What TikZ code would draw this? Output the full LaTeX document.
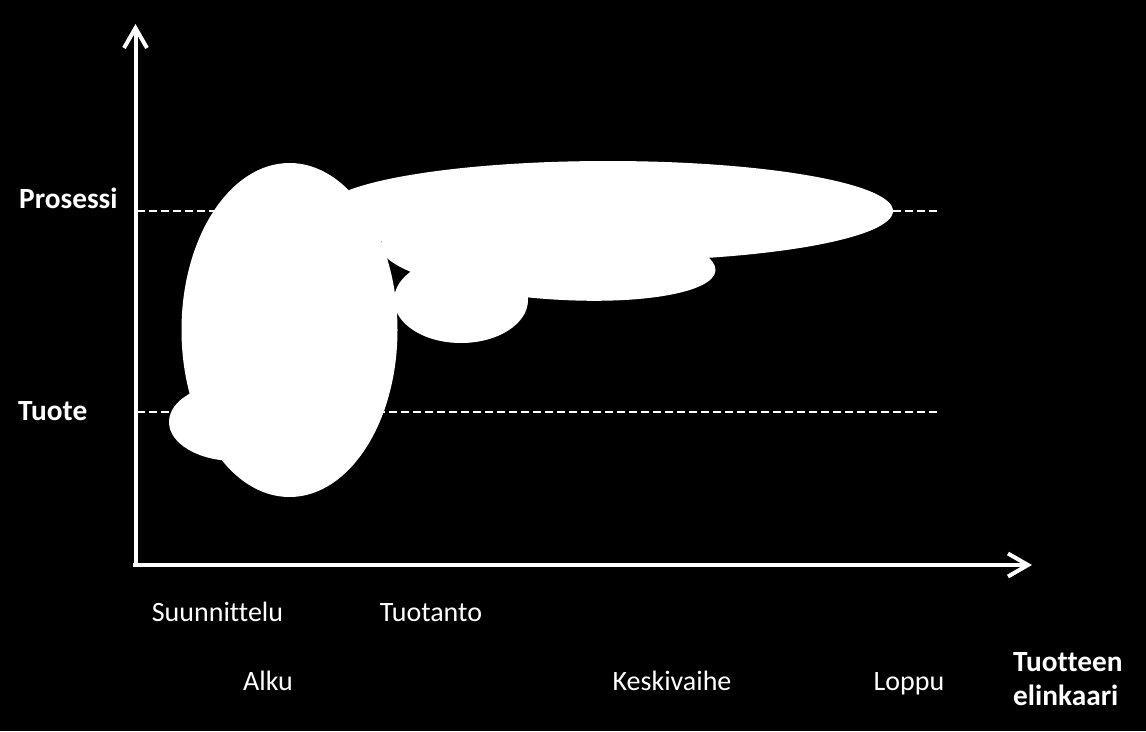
\documentclass[tikz,border=0pt]{standalone}
\usepackage{fontspec}
\setmainfont[Ligatures=NoCommon]{Carlito}
\usetikzlibrary{arrows.meta}
\begin{document}
\begin{tikzpicture}[x=1pt,y=-1pt,
  axis/.style={white,line width=4pt,-{Straight Barb[length=20pt,width=23pt,line width=4pt]}},
  guide/.style={white,line width=2.5pt,dash pattern=on 8pt off 4pt},
  blob/.style={fill=white},
  lbl/.style={text=white,inner sep=0pt,font=\fontsize{28}{34}\selectfont},
  blbl/.style={lbl,font=\fontsize{29.3}{34}\selectfont\bfseries}]
\fill[black] (0,0) rectangle (1146,731);
\useasboundingbox (0,0) rectangle (1146,731);
% coordinates
\coordinate (o) at (135.5,565);
\coordinate (ytop) at (135.5,24);
\coordinate (xend) at (1032,565);
\coordinate (p0) at (137,211);
\coordinate (p1) at (937,211);
\coordinate (t0) at (137,412);
\coordinate (t1) at (937,412);
% dashed guides
\draw[guide] (p0) -- (p1);
\draw[guide] (t0) -- (t1);
% shapes
\fill[blob] (608,211) ellipse [x radius=285pt, y radius=50pt];
\fill[blob, rotate around={-4.3:(548,258)}] (548,258) ellipse [x radius=168pt, y radius=41pt];
\fill[blob] (461,300) ellipse [x radius=67pt, y radius=43pt];
\fill[blob] (235,422) ellipse [x radius=66pt, y radius=39pt];
\fill[blob] (289.5,330) ellipse [x radius=108pt, y radius=167pt];
% axes
\draw[axis] ([yshift=-2pt]o) -- (ytop);
\draw[axis] ([xshift=-2.5pt]o) -- (xend);
% labels
\node[blbl,anchor=base west] (pros) at (19,208) {Prosessi};
\node[blbl,anchor=base west] (tuote) at (18,420) {Tuote};
\node[lbl,anchor=base] (suun) at (217.5,621) {Suunnittelu};
\node[lbl,anchor=base] (tuot) at (431,621) {Tuotanto};
\node[lbl,anchor=base] (alku) at (268,690) {Alku};
\node[lbl,anchor=base] (kesk) at (672,690) {Keskivaihe};
\node[lbl,anchor=base] (lopp) at (909,690) {Loppu};
\node[blbl,anchor=base west] (elin1) at (1013,671) {Tuotteen};
\node[blbl,anchor=base west] (elin2) at (1013,705) {elinkaari};
\end{tikzpicture}
\end{document}
